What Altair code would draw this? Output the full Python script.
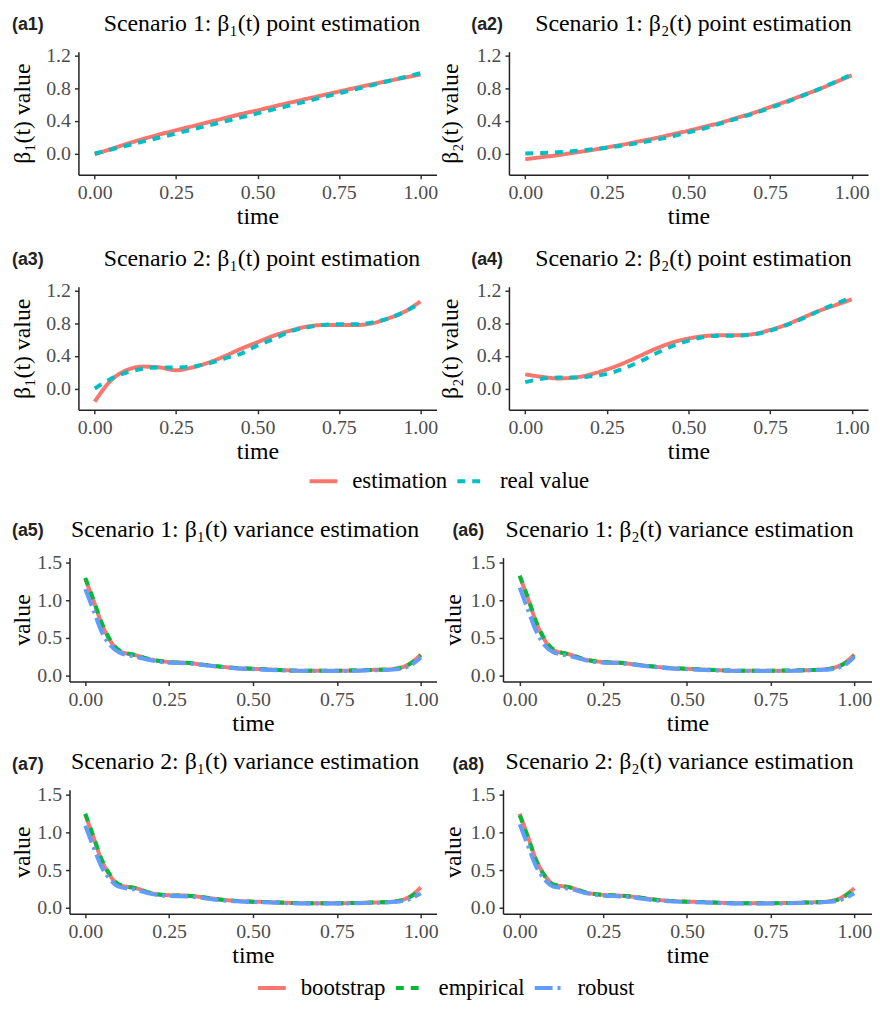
import altair as alt
import pandas as pd

SERIF = "Liberation Serif"

# ---------------- data ----------------
T_PT = [0.0, 0.05, 0.1, 0.15, 0.2, 0.25, 0.3, 0.35, 0.4, 0.45, 0.5,
        0.55, 0.6, 0.65, 0.7, 0.75, 0.8, 0.85, 0.9, 0.95, 1.0]

a1_est = [-0.01, 0.055, 0.12, 0.18, 0.235, 0.285, 0.335, 0.385, 0.435, 0.485, 0.53,
          0.578, 0.625, 0.67, 0.715, 0.76, 0.805, 0.848, 0.89, 0.93, 0.97]
a1_real = [0.0, 0.049, 0.098, 0.148, 0.197, 0.246, 0.296, 0.345, 0.394, 0.443, 0.493,
           0.542, 0.591, 0.64, 0.69, 0.739, 0.788, 0.837, 0.887, 0.936, 0.985]

a2_est = [-0.07, -0.045, -0.02, 0.01, 0.04, 0.075, 0.11, 0.15, 0.19, 0.235, 0.28,
          0.33, 0.38, 0.44, 0.50, 0.57, 0.64, 0.715, 0.79, 0.875, 0.96]
a2_real = [0.0, 0.005, 0.015, 0.03, 0.05, 0.07, 0.10, 0.13, 0.17, 0.21, 0.26,
           0.31, 0.37, 0.43, 0.49, 0.56, 0.63, 0.71, 0.79, 0.88, 0.97]

a3_est = [-0.16, 0.10, 0.23, 0.27, 0.26, 0.225, 0.26, 0.32, 0.40, 0.49, 0.57,
          0.65, 0.71, 0.76, 0.78, 0.78, 0.78, 0.80, 0.86, 0.94, 1.07]
a3_real = [0.0, 0.12, 0.20, 0.245, 0.26, 0.26, 0.27, 0.31, 0.37, 0.43, 0.53,
           0.61, 0.70, 0.75, 0.78, 0.79, 0.79, 0.81, 0.86, 0.94, 1.05]

a4_est = [0.175, 0.145, 0.125, 0.135, 0.175, 0.235, 0.31, 0.40, 0.49, 0.565, 0.615,
          0.645, 0.655, 0.655, 0.67, 0.72, 0.785, 0.87, 0.955, 1.025, 1.095]
a4_real = [0.08, 0.12, 0.135, 0.135, 0.15, 0.18, 0.245, 0.33, 0.43, 0.52, 0.59,
           0.635, 0.65, 0.65, 0.665, 0.71, 0.78, 0.86, 0.955, 1.04, 1.12]

T_VAR = [0.0, 0.025, 0.05, 0.075, 0.1, 0.15, 0.2, 0.25, 0.3, 0.35, 0.4, 0.45, 0.5,
         0.55, 0.6, 0.65, 0.7, 0.75, 0.8, 0.85, 0.9, 0.925, 0.95, 0.975, 1.0]

a5_boot = [1.29, 0.99, 0.68, 0.46, 0.33, 0.27, 0.21, 0.18, 0.17, 0.145, 0.12, 0.10, 0.09,
           0.08, 0.07, 0.065, 0.065, 0.065, 0.065, 0.075, 0.08, 0.09, 0.12, 0.18, 0.28]
a5_emp = [1.30, 1.00, 0.69, 0.47, 0.34, 0.27, 0.21, 0.18, 0.17, 0.145, 0.12, 0.10, 0.09,
          0.08, 0.07, 0.065, 0.065, 0.065, 0.07, 0.075, 0.08, 0.09, 0.115, 0.175, 0.27]
a5_rob = [1.15, 0.86, 0.57, 0.40, 0.31, 0.25, 0.20, 0.17, 0.165, 0.14, 0.115, 0.095, 0.085,
          0.075, 0.068, 0.062, 0.062, 0.062, 0.062, 0.07, 0.075, 0.082, 0.10, 0.15, 0.24]

a6_boot = [1.32, 1.02, 0.70, 0.47, 0.34, 0.28, 0.21, 0.18, 0.17, 0.145, 0.12, 0.10, 0.09,
           0.08, 0.07, 0.065, 0.065, 0.065, 0.065, 0.07, 0.08, 0.09, 0.12, 0.18, 0.28]
a6_emp = [1.33, 1.03, 0.71, 0.48, 0.35, 0.28, 0.21, 0.18, 0.17, 0.145, 0.12, 0.10, 0.09,
          0.08, 0.07, 0.065, 0.065, 0.065, 0.068, 0.072, 0.08, 0.088, 0.115, 0.17, 0.26]
a6_rob = [1.17, 0.87, 0.58, 0.40, 0.31, 0.26, 0.20, 0.17, 0.165, 0.14, 0.115, 0.095, 0.085,
          0.075, 0.068, 0.062, 0.062, 0.062, 0.062, 0.068, 0.075, 0.08, 0.10, 0.15, 0.25]

a7_boot = [1.24, 0.93, 0.62, 0.42, 0.30, 0.26, 0.19, 0.165, 0.16, 0.14, 0.11, 0.09, 0.08,
           0.075, 0.065, 0.06, 0.06, 0.06, 0.062, 0.068, 0.075, 0.085, 0.11, 0.17, 0.27]
a7_emp = [1.25, 0.94, 0.63, 0.43, 0.31, 0.26, 0.19, 0.165, 0.16, 0.14, 0.11, 0.09, 0.08,
          0.075, 0.065, 0.06, 0.06, 0.06, 0.062, 0.068, 0.075, 0.083, 0.105, 0.16, 0.25]
a7_rob = [1.09, 0.80, 0.53, 0.37, 0.28, 0.24, 0.18, 0.155, 0.15, 0.13, 0.10, 0.085, 0.075,
          0.07, 0.06, 0.055, 0.055, 0.055, 0.058, 0.063, 0.07, 0.078, 0.09, 0.13, 0.19]

a8_boot = [1.25, 0.94, 0.63, 0.43, 0.31, 0.27, 0.20, 0.17, 0.16, 0.14, 0.11, 0.09, 0.08,
           0.075, 0.065, 0.06, 0.06, 0.06, 0.062, 0.068, 0.075, 0.085, 0.11, 0.17, 0.26]
a8_emp = [1.23, 0.93, 0.62, 0.42, 0.31, 0.27, 0.20, 0.17, 0.16, 0.14, 0.11, 0.09, 0.08,
          0.075, 0.065, 0.06, 0.06, 0.06, 0.062, 0.068, 0.075, 0.083, 0.105, 0.16, 0.25]
a8_rob = [1.11, 0.82, 0.54, 0.37, 0.28, 0.25, 0.19, 0.16, 0.15, 0.13, 0.10, 0.085, 0.075,
          0.07, 0.06, 0.055, 0.055, 0.055, 0.058, 0.063, 0.07, 0.078, 0.09, 0.13, 0.19]

PT_SERIES = ["estimation", "real value"]
PT_COLORS = ["#F8766D", "#00BFC4"]
PT_DASH = [[1, 0], [8, 7]]

VAR_SERIES = ["bootstrap", "empirical", "robust"]
VAR_COLORS = ["#F8766D", "#00BA38", "#619CFF"]
VAR_DASH = [[1, 0], [8, 7], [18, 5, 3, 5]]

X_TICKS = [0, 0.25, 0.5, 0.75, 1.0]


def make_panel(tag, title, ytitle, t, series_names, series_vals, colors, dashes,
               xdomain, ydomain, yticks, width, height, tag_dx, tag_dy, title_cx, ytp,
               legend, left_ext=0):
    rows = []
    for name, vals in zip(series_names, series_vals):
        for tt, v in zip(t, vals):
            rows.append({"time": tt, "value": v, "series": name})
    df = pd.DataFrame(rows)
    xscale = alt.Scale(domain=xdomain, nice=False, zero=False)
    if left_ext:
        xscale = alt.Scale(domain=xdomain, nice=False, zero=False,
                           range=[-left_ext, width])
    lines = alt.Chart(df).mark_line(strokeWidth=4, interpolate="monotone").encode(
        x=alt.X("time:Q", scale=xscale,
                axis=alt.Axis(values=X_TICKS, format=".2f", title="time",
                              titlePadding=2, labelFlush=False)),
        y=alt.Y("value:Q",
                scale=alt.Scale(domain=ydomain, nice=False, zero=False),
                axis=alt.Axis(values=yticks, format=".1f", title=ytitle,
                              titlePadding=ytp, labelFlush=False, offset=left_ext)),
        color=alt.Color("series:N",
                        scale=alt.Scale(domain=series_names, range=colors),
                        legend=legend),
        strokeDash=alt.StrokeDash("series:N",
                                  scale=alt.Scale(domain=series_names, range=dashes),
                                  legend=legend),
    )
    tag_layer = alt.Chart(pd.DataFrame({"tag": [tag]})).mark_text(
        font="Liberation Sans", fontWeight="bold", fontSize=18,
        align="left", baseline="middle", color="#222222"
    ).encode(text="tag:N", x=alt.value(tag_dx), y=alt.value(tag_dy))
    title_layer = alt.Chart(pd.DataFrame({"title": [title]})).mark_text(
        font=SERIF, fontSize=24, align="center", baseline="alphabetic", color="black"
    ).encode(text="title:N", x=alt.value(title_cx), y=alt.value(-21))
    return alt.layer(lines, tag_layer, title_layer).properties(width=width, height=height)


def legend_def(x, y):
    return alt.Legend(orient="none", legendX=x, legendY=y, direction="horizontal",
                      title=None, symbolType="stroke", symbolStrokeWidth=4,
                      symbolSize=784, labelFont=SERIF, labelFontSize=23,
                      labelColor="black", labelOffset=13, columnPadding=2,
                      symbolOpacity=1)


leg1 = legend_def(231, 417)
leg2 = legend_def(179, 418)

PT_DOM = [-0.26, 1.25]
PT_TICKS = [0, 0.4, 0.8, 1.2]
VAR_DOM = [-0.08, 1.57]
VAR_TICKS = [0, 0.5, 1.0, 1.5]

X_PT = [-0.05, 1.05]
X_LEFT_VAR = [-0.047, 1.047]
X_RIGHT_VAR = [-0.05, 1.053]

a1 = make_panel("(a1)", "Scenario 1: β₁(t) point estimation", "β₁(t) value", T_PT,
                PT_SERIES, [a1_est, a1_real], PT_COLORS, PT_DASH, X_PT, PT_DOM, PT_TICKS,
                361, 124, -67, -27, 185, 11, leg1)
a2 = make_panel("(a2)", "Scenario 1: β₂(t) point estimation", "β₂(t) value", T_PT,
                PT_SERIES, [a2_est, a2_real], PT_COLORS, PT_DASH, X_PT, PT_DOM, PT_TICKS,
                362, 124, -38, -27, 186, 14, leg1)
a3 = make_panel("(a3)", "Scenario 2: β₁(t) point estimation", "β₁(t) value", T_PT,
                PT_SERIES, [a3_est, a3_real], PT_COLORS, PT_DASH, X_PT, PT_DOM, PT_TICKS,
                361, 124, -67, -27, 185, 11, leg1)
a4 = make_panel("(a4)", "Scenario 2: β₂(t) point estimation", "β₂(t) value", T_PT,
                PT_SERIES, [a4_est, a4_real], PT_COLORS, PT_DASH, X_PT, PT_DOM, PT_TICKS,
                362, 124, -38, -27, 186, 14, leg1)

a5 = make_panel("(a5)", "Scenario 1: β₁(t) variance estimation", "value", T_VAR,
                VAR_SERIES, [a5_boot, a5_emp, a5_rob], VAR_COLORS, VAR_DASH, X_LEFT_VAR,
                VAR_DOM, VAR_TICKS, 361, 125, -67, -27, 168, 2, leg2, left_ext=9)
a6 = make_panel("(a6)", "Scenario 1: β₂(t) variance estimation", "value", T_VAR,
                VAR_SERIES, [a6_boot, a6_emp, a6_rob], VAR_COLORS, VAR_DASH, X_RIGHT_VAR,
                VAR_DOM, VAR_TICKS, 372, 125, -51, -27, 178, 5, leg2)
a7 = make_panel("(a7)", "Scenario 2: β₁(t) variance estimation", "value", T_VAR,
                VAR_SERIES, [a7_boot, a7_emp, a7_rob], VAR_COLORS, VAR_DASH, X_LEFT_VAR,
                VAR_DOM, VAR_TICKS, 361, 125, -67, -25, 168, 2, leg2, left_ext=9)
a8 = make_panel("(a8)", "Scenario 2: β₂(t) variance estimation", "value", T_VAR,
                VAR_SERIES, [a8_boot, a8_emp, a8_rob], VAR_COLORS, VAR_DASH, X_RIGHT_VAR,
                VAR_DOM, VAR_TICKS, 372, 125, -51, -25, 178, 5, leg2)

block1 = alt.vconcat(alt.hconcat(a1, a2, spacing=0), alt.hconcat(a3, a4, spacing=0), spacing=19)
block2 = alt.vconcat(alt.hconcat(a5, a6, spacing=-4), alt.hconcat(a7, a8, spacing=-4), spacing=15)

chart = alt.concat(block1, block2, columns=1, spacing=25).resolve_scale(
    color="independent", strokeDash="independent"
).properties(
    padding={"top": 0, "left": 3, "right": 0, "bottom": 0}
).configure_view(stroke=None).configure_axis(
    grid=False, domainColor="#222222", domainWidth=1.5, tickColor="#333333",
    tickWidth=1.5, tickSize=4, labelPadding=4, labelFont=SERIF, labelFontSize=20,
    labelColor="#4D4D4D", titleFont=SERIF, titleFontSize=24, titleFontWeight="normal",
    titleColor="black"
)

chart.save("out.html", embed_options={"renderer": "svg", "actions": False})
